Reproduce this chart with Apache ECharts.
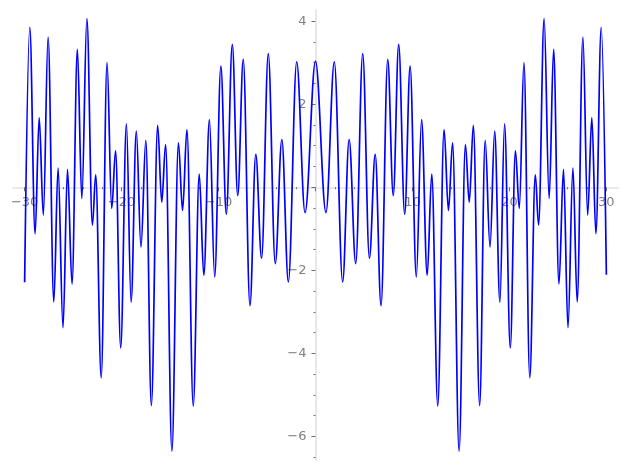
<!DOCTYPE html>
<html><head><meta charset="utf-8">
<script src="https://cdn.jsdelivr.net/npm/echarts@6/dist/echarts.min.js"></script>
<style>html,body{margin:0;padding:0;background:#fff}#c{width:627px;height:470px}</style>
</head><body><div id="c"></div>
<script>
// Curve: local extrema (and the two end points)
const xValues = [
  -30, -29.47, -28.92, -28.5, -28.07, -27.58, -26.99, -26.55, -26.04, -25.58,
  -25.11, -24.56, -24.1, -23.58, -23.01, -22.67, -22.1, -21.5, -21.02, -20.62,
  -20.09, -19.5, -19.02, -18.48, -18.0, -17.5, -16.93, -16.28, -15.86, -15.46,
  -14.81, -14.14, -13.71, -13.26, -12.61, -11.99, -11.52, -10.94, -10.4, -9.76,
  -9.2, -8.58, -8.02, -7.45, -6.76, -6.16, -5.56, -4.87, -4.15, -3.47,
  -2.8, -1.94, -1.08,
  0,
  1.08, 1.94, 2.8, 3.47, 4.15, 4.87, 5.56, 6.16, 6.76, 7.45,
  8.02, 8.58, 9.2, 9.76, 10.4, 10.94, 11.52, 11.99, 12.61, 13.26,
  13.71, 14.14, 14.81, 15.46, 15.86, 16.28, 16.93, 17.5, 18.0, 18.48,
  19.02, 19.5, 20.09, 20.62, 21.02, 21.5, 22.1, 22.67, 23.01, 23.58,
  24.1, 24.56, 25.11, 25.58, 26.04, 26.55, 26.99, 27.58, 28.07, 28.5,
  28.92, 29.47, 30
];
const yValues = [
  -2.29, 3.85, -1.12, 1.68, -0.67, 3.62, -2.76, 0.46, -3.38, 0.43,
  -2.33, 3.32, -0.27, 4.06, -0.91, 0.30, -4.59, 3.0, -0.51, 0.88,
  -3.87, 1.53, -2.77, 1.35, -1.44, 1.13, -5.26, 1.49, -0.36, 1.03,
  -6.36, 1.07, -0.56, 1.39, -5.27, 0.32, -2.12, 1.63, -2.16, 2.92,
  -0.65, 3.44, -0.20, 3.08, -2.85, 0.79, -1.71, 3.22, -1.84, 1.15,
  -2.28, 3.02, -0.61,
  3.04,
  -0.61, 3.02, -2.28, 1.15, -1.84, 3.22, -1.71, 0.79, -2.85, 3.08,
  -0.20, 3.44, -0.65, 2.92, -2.16, 1.63, -2.12, 0.32, -5.27, 1.39,
  -0.56, 1.07, -6.36, 1.03, -0.36, 1.49, -5.26, 1.13, -1.44, 1.35,
  -2.77, 1.53, -3.87, 0.88, -0.51, 3.0, -4.59, 0.30, -0.91, 4.06,
  -0.27, 3.32, -2.33, 0.43, -3.38, 0.46, -2.76, 3.62, -0.67, 1.68,
  -1.12, 3.85, -2.11
];
const xMajorTicks = [-30, -20, -10, 0, 10, 20, 30];
const xMinorTicks = [-28, -26, -24, -22, -18, -16, -14, -12, -8, -6, -4, -2,
                     2, 4, 6, 8, 12, 14, 16, 18, 22, 24, 26, 28];
const xTickLabels = [-30, -20, -10, 10, 20, 30];
const yMajorTicks = [-6, -4, -2, 0, 2, 4];
const yMinorTicks = [-6.5, -5.5, -5, -4.5, -3.5, -3, -2.5, -1.5, -1, -0.5,
                     0.5, 1, 1.5, 2.5, 3, 3.5];
const yTickLabels = [-6, -4, -2, 2, 4];
const xRange = [-31.2, 31.2];
const yRange = [-6.57, 4.27];

const points = xValues.map((x, i) => [x, yValues[i]]);
const fmt = v => String(v).replace('-', '\u2212');
const labelStyle = {color: '#808080', fontSize: 13, fontFamily: 'DejaVu Sans'};
const tickColor = '#6e6e6e';
const LABEL_GAP = 9;

function buildOption(xMargin, yMargin) {
  return {
    animation: false,
    backgroundColor: '#ffffff',
    grid: {left: 13, right: 9, top: 10, bottom: 10, containLabel: false, outerBoundsMode: 'none'},
    xAxis: [{
      type: 'value', min: xRange[0], max: xRange[1], position: 'bottom',
      axisLine: {onZero: true, lineStyle: {color: '#e3e3e3', width: 1.6}},
      axisTick: {show: true, customValues: xMajorTicks, length: 4, lineStyle: {color: tickColor, width: 1}},
      axisLabel: Object.assign({customValues: xTickLabels, margin: xMargin, formatter: fmt}, labelStyle),
      splitLine: {show: false}
    }, {
      type: 'value', min: xRange[0], max: xRange[1], position: 'bottom',
      axisLine: {show: false, onZero: true, onZeroAxisIndex: 0},
      axisTick: {show: true, customValues: xMinorTicks, length: 2, lineStyle: {color: tickColor, width: 1}},
      axisLabel: {show: false},
      splitLine: {show: false}
    }],
    yAxis: [{
      type: 'value', min: yRange[0], max: yRange[1], position: 'left',
      axisLine: {show: true, onZero: true, lineStyle: {color: '#e3e3e3', width: 1.6}},
      axisTick: {show: true, customValues: yMajorTicks, length: 4, lineStyle: {color: tickColor, width: 1}},
      axisLabel: Object.assign({customValues: yTickLabels, margin: yMargin, formatter: fmt}, labelStyle),
      splitLine: {show: false}
    }, {
      type: 'value', min: yRange[0], max: yRange[1], position: 'left',
      axisLine: {show: false, onZero: true, onZeroAxisIndex: 0},
      axisTick: {show: true, customValues: yMinorTicks, length: 2, lineStyle: {color: tickColor, width: 1}},
      axisLabel: {show: false},
      splitLine: {show: false}
    }],
    series: [{
      type: 'line', xAxisIndex: 0, yAxisIndex: 0,
      data: points, showSymbol: false, symbol: 'none',
      smooth: 0.36, smoothMonotone: 'x',
      lineStyle: {color: '#0000ff', width: 1.7},
      z: 10
    }]
  };
}

const chart = echarts.init(document.getElementById('c'), null, {renderer: 'canvas'});
chart.setOption(buildOption(LABEL_GAP, LABEL_GAP));
// Labels of on-zero axes sit at the grid edge; shift them back next to the zero lines.
const zero = chart.convertToPixel({xAxisIndex: 0, yAxisIndex: 0}, [0, 0]);
const corner = chart.convertToPixel({xAxisIndex: 0, yAxisIndex: 0}, [xRange[0], yRange[0]]);
const xMargin = LABEL_GAP - (corner[1] - zero[1]);
const yMargin = LABEL_GAP - (zero[0] - corner[0]);
chart.setOption(buildOption(xMargin, yMargin), true);
</script></body></html>
